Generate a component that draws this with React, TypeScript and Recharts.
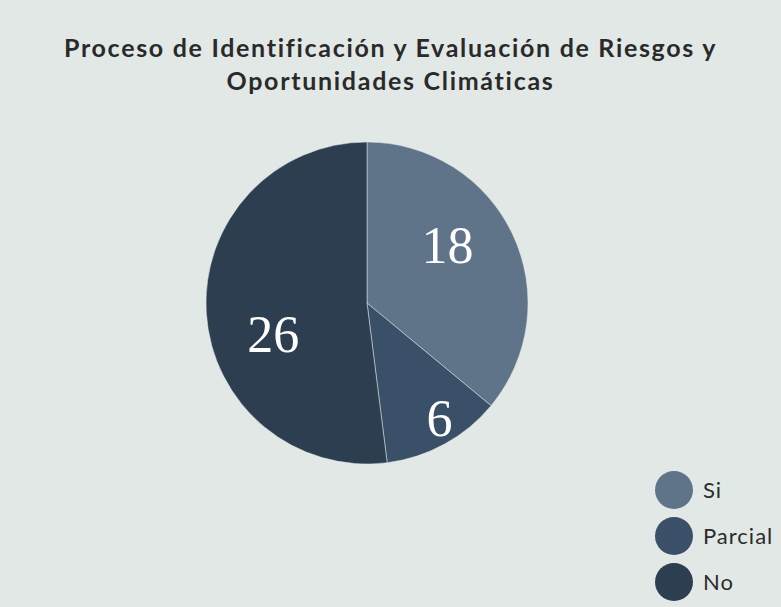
import { PieChart, Pie, Cell, Legend } from 'recharts';

const categories = ['Si', 'Parcial', 'No'];
const counts = [18, 6, 26];
const colors = ['#5F7389', '#3A5068', '#2C3E50'];

const titleLines = [
  'Proceso de Identificación y Evaluación de Riesgos y',
  'Oportunidades Climáticas',
];

const data = categories.map((name, i) => ({ name, value: counts[i] }));

const RADIAN = Math.PI / 180;

// labels sit a bit before the middle of each slice, small slices pushed outward
const renderLabel = (props: any) => {
  const { cx, cy, startAngle, endAngle, outerRadius, percent, value } = props;
  const f = percent < 0.15 ? 0.845 : 0.615;
  const r = outerRadius * f;
  const a = startAngle + 0.42 * (endAngle - startAngle);
  const x = cx + r * Math.cos(-a * RADIAN);
  const y = cy + r * Math.sin(-a * RADIAN);
  return (
    <text
      x={x}
      y={y}
      fill="#ffffff"
      textAnchor="middle"
      dominantBaseline="central"
      fontFamily="'Liberation Serif', serif"
      fontSize={52}
    >
      {value}
    </text>
  );
};

const LegendContent = () => (
  <div style={{ display: 'flex', flexDirection: 'column', gap: 7 }}>
    {data.map((d, i) => (
      <div key={d.name} style={{ display: 'flex', alignItems: 'center', height: 39 }}>
        <span
          style={{
            width: 38,
            height: 38,
            borderRadius: '50%',
            background: colors[i],
            display: 'inline-block',
            marginRight: 10,
          }}
        />
        <span
          style={{
            fontFamily: 'Lato, sans-serif',
            fontSize: 22,
            letterSpacing: 1,
            color: '#2b2b2b',
          }}
        >
          {d.name}
        </span>
      </div>
    ))}
  </div>
);

export default function App() {
  return (
    <div
      style={{
        position: 'absolute',
        left: 0,
        top: 0,
        width: 781,
        height: 607,
        background: '#E2E8E6',
        overflow: 'hidden',
      }}
    >
      <div
        style={{
          position: 'absolute',
          top: 31,
          left: 0,
          width: 781,
          textAlign: 'center',
          fontFamily: 'Lato, sans-serif',
          fontWeight: 700,
          fontSize: 25,
          letterSpacing: 1.7,
          lineHeight: '33px',
          color: '#2a2a2a',
        }}
      >
        {titleLines.map((t) => (
          <div key={t}>{t}</div>
        ))}
      </div>
      <PieChart
        width={781}
        height={607}
        margin={{ top: 0, right: 0, bottom: 0, left: 0 }}
        style={{ position: 'absolute', left: 0, top: 0 }}
      >
        <Pie
          data={data}
          dataKey="value"
          nameKey="name"
          cx={367}
          cy={303}
          outerRadius={161}
          startAngle={90}
          endAngle={-270}
          stroke="#E2E8E6"
          strokeWidth={0.5}
          label={renderLabel}
          labelLine={false}
          isAnimationActive={false}
        >
          {data.map((d, i) => (
            <Cell key={d.name} fill={colors[i]} />
          ))}
        </Pie>
        <Legend
          layout="vertical"
          align="right"
          verticalAlign="bottom"
          content={<LegendContent />}
          wrapperStyle={{ right: 0, bottom: 6, width: 126 }}
        />
      </PieChart>
    </div>
  );
}
